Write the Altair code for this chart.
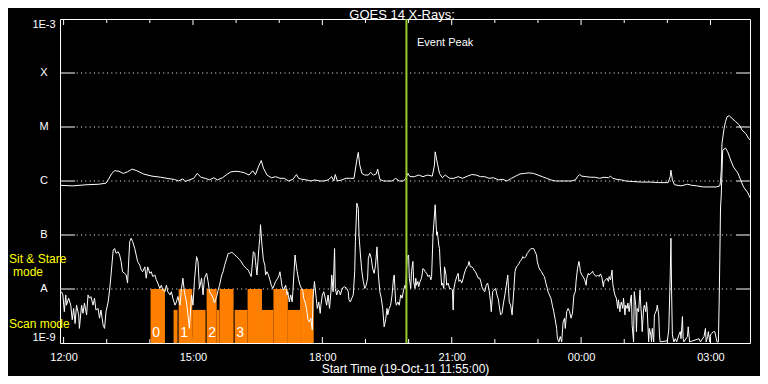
import altair as alt
import pandas as pd
import numpy as np

# ---------------- data ----------------
START = pd.Timestamp("2011-10-19 11:55:00")   # start time of the plot
EVENT_PEAK_MIN = 482                           # event peak, minutes after start
TITLE = "GOES 14 X-Rays:"

# GOES 14, 1.0-8.0 A channel: minutes after start, log10 flux (W/m^2)
long_min = [0, 18, 36, 54, 64, 67, 72, 76, 82, 88,
            94, 100, 107, 116, 128, 140, 153, 159, 165, 171,
            174, 180, 186, 191, 196, 202, 208, 214, 219, 226,
            232, 238, 245, 251, 257, 263, 268, 272, 276, 280,
            283, 288, 294, 300, 306, 312, 318, 324, 329, 332,
            337, 343, 349, 355, 361, 367, 373, 378, 381, 383,
            386, 392, 398, 404, 409, 413, 415, 417, 420, 424,
            429, 432, 436, 440, 442, 445, 450, 456, 462, 467,
            472, 478, 481, 484, 487, 493, 499, 505, 511, 518,
            521, 522, 525, 528, 532, 536, 542, 548, 554, 560,
            567, 573, 579, 585, 591, 597, 603, 610, 616, 622,
            628, 634, 640, 646, 652, 659, 665, 671, 677, 683,
            689, 695, 701, 711, 717, 720, 723, 726, 732, 738,
            744, 751, 757, 763, 766, 769, 775, 781, 787, 797,
            809, 821, 833, 846, 849, 850, 852, 855, 864, 870,
            873, 879, 886, 895, 904, 913, 918, 919, 920, 921,
            924, 926, 928, 931, 935, 940, 945, 949, 954, 958,
            960]
long_log = [-6.08, -6.09, -6.07, -6.06, -6.04, -5.98, -5.86, -5.81, -5.82, -5.86,
            -5.83, -5.78, -5.81, -5.87, -5.91, -5.93, -5.96, -5.97, -6.00, -5.96,
            -6.01, -5.98, -5.95, -5.86, -5.93, -5.95, -5.98, -5.94, -5.98, -5.94,
            -5.88, -5.83, -5.82, -5.83, -5.85, -5.89, -5.81, -5.88, -5.74, -5.62,
            -5.76, -5.89, -5.94, -5.92, -5.95, -5.95, -6.00, -5.97, -5.88, -5.95,
            -5.97, -5.98, -6.00, -5.98, -6.00, -6.00, -5.98, -5.92, -6.00, -5.88,
            -6.00, -5.98, -5.95, -5.95, -5.95, -5.61, -5.47, -5.70, -5.86, -5.89,
            -5.89, -5.84, -5.89, -5.87, -5.78, -5.97, -6.00, -6.00, -6.00, -5.95,
            -6.00, -6.00, -5.95, -5.86, -5.92, -5.92, -5.89, -5.92, -5.89, -5.91,
            -5.70, -5.46, -5.67, -5.86, -5.94, -5.89, -5.95, -5.95, -5.92, -5.95,
            -5.91, -5.88, -5.89, -5.92, -5.92, -5.95, -5.94, -5.98, -5.97, -6.00,
            -5.95, -5.91, -5.87, -5.86, -5.85, -5.86, -5.89, -5.92, -5.95, -5.98,
            -6.00, -6.00, -6.00, -6.00, -5.98, -5.92, -5.88, -5.91, -5.92, -5.93,
            -5.93, -5.95, -5.93, -5.94, -5.91, -5.95, -5.97, -5.98, -6.00, -6.01,
            -6.02, -6.02, -6.03, -6.03, -5.92, -5.80, -5.98, -6.07, -6.09, -6.07,
            -6.06, -6.08, -6.09, -6.11, -6.11, -6.11, -6.09, -6.01, -5.80, -5.30,
            -5.02, -4.90, -4.81, -4.79, -4.84, -4.90, -4.96, -5.06, -5.12, -5.21,
            -5.24]

# GOES 14, 0.5-4.0 A channel: minutes after start, log10 flux (W/m^2)
short_min = [2, 4, 6, 8, 9, 12, 15, 17, 19, 21,
             23, 26, 27, 30, 32, 34, 37, 39, 41, 43,
             46, 48, 50, 53, 55, 57, 60, 62, 64, 67,
             69, 71, 74, 76, 78, 81, 83, 85, 87, 90,
             92, 94, 97, 99, 101, 104, 106, 108, 111, 113,
             115, 118, 120, 122, 125, 127, 129, 132, 134, 136,
             139, 141, 143, 146, 148, 150, 153, 155, 157, 160,
             162, 164, 167, 169, 171, 173, 176, 178, 180, 183,
             185, 187, 190, 192, 194, 197, 199, 201, 204, 206,
             208, 211, 213, 215, 218, 220, 222, 225, 227, 229,
             232, 234, 236, 239, 241, 243, 246, 248, 250, 252,
             255, 257, 259, 262, 264, 266, 269, 271, 272, 274,
             277, 278, 279, 281, 283, 285, 286, 288, 290, 292,
             294, 296, 298, 300, 303, 305, 306, 307, 309, 311,
             314, 316, 317, 319, 321, 323, 324, 327, 328, 330,
             332, 334, 336, 338, 339, 341, 343, 345, 347, 349,
             351, 352, 354, 356, 358, 360, 362, 363, 365, 367,
             369, 371, 373, 375, 377, 378, 380, 382, 383, 385,
             387, 389, 390, 392, 394, 396, 399, 401, 402, 404,
             406, 408, 410, 411, 413, 415, 416, 418, 420, 422,
             424, 426, 428, 429, 431, 433, 435, 437, 439, 441,
             442, 443, 445, 447, 449, 451, 453, 455, 456, 458,
             460, 462, 464, 465, 467, 468, 470, 472, 474, 476,
             478, 480, 481, 483, 485, 486, 488, 489, 491, 492,
             494, 495, 496, 498, 499, 501, 503, 505, 507, 508,
             510, 512, 514, 516, 517, 519, 520, 521, 522, 524,
             525, 527, 528, 529, 531, 532, 534, 535, 537, 538,
             540, 542, 544, 546, 547, 548, 550, 552, 554, 555,
             557, 559, 561, 562, 564, 566, 568, 569, 571, 573,
             575, 576, 578, 580, 582, 584, 586, 587, 589, 591,
             593, 595, 597, 599, 600, 602, 604, 606, 608, 610,
             611, 613, 615, 617, 619, 621, 623, 624, 625, 627,
             629, 631, 633, 635, 637, 639, 640, 642, 644, 646,
             648, 650, 652, 653, 655, 657, 659, 661, 663, 664,
             666, 668, 670, 672, 674, 676, 678, 679, 681, 683,
             685, 687, 689, 691, 692, 694, 696, 698, 700, 702,
             703, 705, 707, 709, 711, 713, 715, 717, 718, 720,
             722, 723, 724, 726, 729, 730, 732, 733, 735, 736,
             739, 741, 742, 744, 746, 748, 750, 752, 754, 756,
             757, 759, 761, 763, 764, 766, 768, 769, 770, 772,
             774, 776, 777, 779, 780, 781, 783, 784, 786, 787,
             789, 790, 792, 794, 795, 796, 798, 799, 801, 802,
             803, 805, 807, 808, 809, 810, 812, 813, 815, 816,
             817, 819, 820, 822, 823, 824, 826, 827, 828, 830,
             831, 833, 834, 835, 845, 847, 849, 850, 851, 852,
             854, 856, 858, 861, 863, 864, 866, 867, 868, 873,
             874, 876, 889, 891, 896, 898, 899, 901, 902, 904,
             905, 907, 909, 911, 912, 914, 916, 917, 918, 919,
             920, 922, 926, 929, 933, 937, 943, 947, 951, 957,
             960]
short_log = [-8.05, -8.11, -8.42, -8.11, -8.30, -8.17, -8.30, -8.57, -8.36, -8.64,
             -8.30, -8.48, -8.73, -8.30, -8.45, -8.26, -8.48, -8.11, -8.17, -8.14,
             -8.30, -8.17, -8.39, -8.36, -8.54, -8.39, -8.67, -8.73, -8.42, -8.24,
             -8.02, -7.74, -7.28, -7.25, -7.34, -7.31, -7.37, -7.49, -7.68, -7.71,
             -7.74, -7.89, -7.12, -7.06, -7.12, -7.25, -7.37, -7.49, -7.56, -7.65,
             -7.68, -7.59, -7.80, -7.59, -7.71, -7.68, -7.77, -7.74, -7.83, -7.89,
             -7.99, -7.93, -8.02, -8.05, -7.93, -8.05, -8.11, -8.05, -8.17, -8.30,
             -8.24, -8.14, -8.30, -7.99, -7.80, -8.05, -8.24, -8.48, -8.73, -8.11,
             -8.30, -7.86, -7.40, -7.49, -7.99, -7.80, -8.11, -7.80, -7.71, -7.86,
             -8.05, -8.11, -8.17, -8.26, -8.14, -8.02, -7.93, -7.74, -7.68, -7.56,
             -7.43, -7.34, -7.34, -7.32, -7.34, -7.37, -7.40, -7.43, -7.46, -7.49,
             -7.56, -7.59, -7.62, -7.65, -7.71, -7.77, -7.31, -7.34, -7.49, -7.74,
             -7.19, -7.06, -6.81, -7.19, -7.46, -7.56, -7.74, -7.68, -7.74, -7.83,
             -7.93, -7.99, -7.93, -7.86, -7.80, -7.74, -7.68, -7.77, -7.96, -8.02,
             -7.93, -8.11, -8.05, -8.24, -8.11, -8.24, -8.05, -7.37, -7.49, -7.68,
             -7.83, -7.93, -7.99, -8.05, -8.17, -8.24, -8.36, -8.57, -8.61, -8.54,
             -8.76, -8.17, -7.86, -8.11, -8.36, -8.24, -8.45, -8.30, -8.11, -8.05,
             -8.17, -8.30, -8.11, -8.36, -8.05, -7.74, -8.05, -7.25, -7.99, -8.11,
             -8.02, -8.05, -8.11, -8.02, -7.97, -7.96, -7.99, -8.05, -8.20, -8.24,
             -8.17, -8.11, -7.68, -7.12, -6.41, -6.51, -7.00, -7.37, -7.68, -7.86,
             -7.99, -7.93, -7.80, -7.43, -7.34, -7.43, -7.62, -7.71, -7.56, -7.22,
             -7.49, -7.74, -8.05, -8.17, -8.36, -8.70, -8.57, -8.36, -8.48, -8.36,
             -8.30, -8.11, -7.80, -7.74, -8.24, -8.30, -8.24, -8.30, -8.11, -8.17,
             -8.02, -7.93, -7.99, -7.40, -7.37, -7.80, -7.99, -7.68, -7.49, -7.86,
             -7.99, -7.80, -7.93, -7.86, -7.96, -7.86, -7.80, -7.62, -7.65, -7.68,
             -7.71, -7.77, -7.74, -7.83, -7.77, -7.00, -6.81, -6.63, -6.44, -7.00,
             -6.94, -7.19, -7.25, -7.56, -7.93, -7.89, -7.99, -7.59, -7.74, -7.93,
             -7.89, -7.99, -7.99, -8.02, -8.39, -7.99, -7.86, -7.77, -7.71, -7.86,
             -7.83, -7.89, -7.80, -7.74, -7.65, -7.59, -7.56, -7.49, -7.59, -7.59,
             -7.62, -7.65, -7.68, -7.74, -7.80, -7.80, -7.89, -7.96, -8.02, -8.05,
             -7.93, -7.89, -8.02, -8.24, -8.42, -8.05, -8.02, -7.99, -8.11, -8.20,
             -8.30, -8.48, -8.45, -8.26, -8.11, -7.93, -7.74, -7.99, -8.24, -8.30,
             -8.48, -8.11, -7.68, -7.59, -7.56, -7.52, -7.49, -7.46, -7.40, -7.43,
             -7.40, -7.34, -7.31, -7.28, -7.26, -7.25, -7.25, -7.31, -7.37, -7.49,
             -7.59, -7.65, -7.68, -7.74, -7.77, -7.89, -7.99, -8.05, -8.11, -8.17,
             -8.30, -8.42, -8.57, -8.73, -8.91, -8.98, -8.88, -8.98, -8.61, -8.54,
             -8.73, -8.42, -8.36, -8.42, -8.54, -8.45, -8.11, -8.05, -7.86, -7.62,
             -7.49, -7.56, -7.68, -7.74, -7.80, -7.83, -7.93, -7.80, -7.71, -7.74,
             -7.71, -7.67, -7.71, -7.74, -7.77, -7.74, -7.77, -7.72, -7.79, -7.96,
             -7.86, -7.83, -7.80, -7.86, -7.77, -7.83, -7.65, -7.89, -7.99, -8.11,
             -8.17, -8.36, -8.20, -8.42, -8.30, -8.24, -8.36, -8.17, -8.48, -8.30,
             -8.36, -8.26, -8.42, -8.17, -8.11, -8.67, -8.98, -8.05, -8.30, -8.79,
             -8.36, -8.42, -8.02, -8.30, -8.48, -8.79, -8.36, -8.30, -8.42, -8.24,
             -8.39, -8.98, -8.73, -8.85, -8.98, -8.73, -8.98, -8.48, -8.45, -8.39,
             -8.30, -8.48, -8.85, -8.98, -8.96, -8.76, -7.74, -7.06, -8.11, -8.85,
             -8.98, -8.92, -8.98, -8.85, -8.79, -8.92, -8.51, -8.92, -8.98, -8.88,
             -8.70, -8.98, -8.92, -8.98, -8.88, -8.73, -8.98, -8.88, -8.79, -8.98,
             -8.85, -8.82, -8.79, -8.79, -8.85, -8.98, -8.98, -8.30, -7.43, -6.50,
             -6.26, -5.43, -5.39, -5.46, -5.61, -5.74, -5.85, -5.98, -6.11, -6.22,
             -6.31]

# instrument observing segments (minutes after start) and mode
seg_start = [126, 158, 165, 184, 204, 218, 222, 243, 261, 281, 297, 317, 334]
seg_end = [146, 163.5, 184, 202.5, 218, 222, 241.5, 261, 281, 297, 317, 334, 353]
seg_mode = ["sit", "scan", "sit", "scan", "sit", "scan", "sit",
            "scan", "sit", "scan", "sit", "scan", "sit"]
mode_top = {"sit": 1e-8, "scan": 4.1e-9}

block_label = ["0", "1", "2", "3"]
block_start = [126, 165, 204, 243]

# GOES flare classes on the flux axis
class_labels = ["1E-9", "A", "B", "C", "M", "X", "1E-3"]
class_values = [1e-9, 1e-8, 1e-7, 1e-6, 1e-5, 1e-4, 1e-3]

# hourly time ticks (hours of day, 12:00 on 19-Oct to 03:00 on 20-Oct)
tick_hours = list(range(12, 28))

# ---------------- tables ----------------
def to_time(mins):
    return START + pd.to_timedelta(np.asarray(mins, dtype=float), unit="min")

n = min(len(long_min), len(long_log))
m = min(len(short_min), len(short_log))
curves = pd.concat([
    pd.DataFrame({"t": to_time(long_min[:n]), "flux": 10.0 ** np.array(long_log[:n]),
                  "band": "1.0-8.0 A", "i": np.arange(n)}),
    pd.DataFrame({"t": to_time(short_min[:m]), "flux": 10.0 ** np.array(short_log[:m]),
                  "band": "0.5-4.0 A", "i": np.arange(m)}),
], ignore_index=True)

segs = pd.DataFrame({
    "start": to_time(seg_start), "end": to_time(seg_end),
    "top": [mode_top[k] for k in seg_mode], "floor": 1e-9,
})
blocks = pd.DataFrame({"t": to_time(block_start), "label": block_label})
event = pd.DataFrame({"t": to_time([EVENT_PEAK_MIN])})
origin = pd.DataFrame({"t": to_time([0])})
middle = pd.DataFrame({"t": to_time([480])})

inner = list(zip(class_values[1:-1], class_labels[1:-1]))
# horizontal class lines: short solid pieces at both ends, dotted in between
grid_solid = pd.DataFrame({
    "level": [v for v, _ in inner] * 2,
    "x1": to_time([0] * len(inner) + [940.5] * len(inner)),
    "x2": to_time([20.9] * len(inner) + [960] * len(inner)),
})
grid_dot = pd.DataFrame({
    "level": [v for v, _ in inner],
    "x1": to_time([23.2] * len(inner)),
    "x2": to_time([934.5] * len(inner)),
})
ylab_mid = pd.DataFrame({"t": to_time([0] * len(inner)),
                         "v": [v for v, _ in inner], "lab": [s for _, s in inner]})
ylab_top = pd.DataFrame({"t": to_time([0]), "v": [class_values[-1]], "lab": [class_labels[-1]]})
ylab_bot = pd.DataFrame({"t": to_time([0]), "v": [class_values[0]], "lab": [class_labels[0]]})

# inward tick marks on the bottom and top frame (longer every 3 hours)
tick_len = [6 if h % 3 == 0 else 4 for h in tick_hours]       # pixels
tick_t = to_time([(h - 12) * 60 + 5 for h in tick_hours])
ticks = pd.DataFrame({
    "t": list(tick_t) * 2,
    "y1": [1e-9] * len(tick_hours) + [1e-3] * len(tick_hours),
    "y2": [10 ** (-9 + L / 54) for L in tick_len] + [10 ** (-3 - L / 54) for L in tick_len],
})

# ---------------- scales / axes ----------------
FONT = "Liberation Sans"
x_dom = [alt.DateTime(year=2011, month=10, date=19, hours=11, minutes=55),
         alt.DateTime(year=2011, month=10, date=20, hours=3, minutes=55)]
xscale = alt.Scale(domain=x_dom)
yscale = alt.Scale(type="log", domain=[1e-9, 1e-3], nice=False)

def hour_dt(h):
    return alt.DateTime(year=2011, month=10, date=19 + h // 24, hours=h % 24)

x_axis = alt.Axis(
    values=[hour_dt(h) for h in tick_hours if h % 3 == 0], format="%H:%M",
    grid=False, ticks=False, domain=False, labelFlush=False, labelOverlap=False,
    labelColor="white", labelFont=FONT, labelFontSize=11, labelPadding=8,
    title="Start Time (19-Oct-11 11:55:00)", titleColor="white", titleFont=FONT,
    titleFontSize=12, titleFontWeight="normal", titlePadding=1,
)

def X(field, axis=None):
    return alt.X(field, scale=xscale, axis=axis)

def Y(field=None, datum=None):
    if datum is not None:
        return alt.Y(datum=datum, scale=yscale, axis=None)
    return alt.Y(field, scale=yscale, axis=None)

# ---------------- layers ----------------
grid_solid_l = alt.Chart(grid_solid).mark_rule(color="white", strokeWidth=1).encode(
    x=X("x1:T"), x2="x2:T", y=Y("level:Q"))
grid_dot_l = alt.Chart(grid_dot).mark_rule(color="white", strokeWidth=1,
                                           strokeDash=[1, 3.33]).encode(
    x=X("x1:T"), x2="x2:T", y=Y("level:Q"))
ticks_l = alt.Chart(ticks).mark_rule(color="white", strokeWidth=1).encode(
    x=X("t:T"), y=Y("y1:Q"), y2="y2:Q")

bars = alt.Chart(segs).mark_rect(color="#ff8000").encode(
    x=X("start:T", x_axis), x2="end:T",
    y=Y("top:Q"), y2="floor:Q",
)

lines = alt.Chart(curves).mark_line(color="white", strokeWidth=1, clip=True).encode(
    x=X("t:T"), y=Y("flux:Q"),
    detail="band:N", order="i:Q",
)

peak = alt.Chart(event).mark_rule(color="#9acd32", strokeWidth=2).encode(x=X("t:T"))

peak_text = alt.Chart(event).mark_text(
    text="Event Peak", align="left", baseline="middle", dx=10.6,
    color="white", font=FONT, fontSize=11,
).encode(x=X("t:T"), y=Y(datum=3.6e-4))

block_text = alt.Chart(blocks).mark_text(
    align="center", baseline="middle", dx=5.5, color="white", font=FONT, fontSize=14,
).encode(x=X("t:T"), y=Y(datum=1.53e-9), text="label:N")

def ylabels(df, baseline):
    return alt.Chart(df).mark_text(
        align="center", baseline=baseline, dx=-16, color="white", font=FONT, fontSize=11,
    ).encode(x=X("t:T"), y=Y("v:Q"), text="lab:N")

ylab1 = ylabels(ylab_mid, "middle")
ylab2 = ylabels(ylab_top, "top")
ylab3 = ylabels(ylab_bot, "bottom")

def mode_label(txt, yval, dx):
    return alt.Chart(origin).mark_text(
        text=txt, align="left", baseline="middle", dx=dx,
        color="#ffff00", font=FONT, fontSize=12,
    ).encode(x=X("t:T"), y=Y(datum=yval))

lab1 = mode_label("Sit & Stare", 3.67e-8, -51)
lab2 = mode_label("mode", 2.06e-8, -47)
lab3 = mode_label("Scan mode", 2.25e-9, -51)

title_l = alt.Chart(middle).mark_text(
    text=TITLE, align="center", baseline="middle", dx=-3,
    color="white", font=FONT, fontSize=13,
).encode(x=X("t:T"), y=Y(datum=1.21e-3))

chart = alt.layer(
    grid_solid_l, grid_dot_l, ticks_l, bars, lines, peak, peak_text, block_text,
    ylab1, ylab2, ylab3, lab1, lab2, lab3, title_l
).resolve_axis(x="independent").properties(
    width=690, height=324,
    background="black",
    padding={"left": 52, "top": 11, "right": 10, "bottom": 33},
    autosize=alt.AutoSizeParams(type="none"),
).configure_view(stroke="white", strokeWidth=1)

chart.save("out.html", embed_options={"renderer": "svg", "actions": False})
